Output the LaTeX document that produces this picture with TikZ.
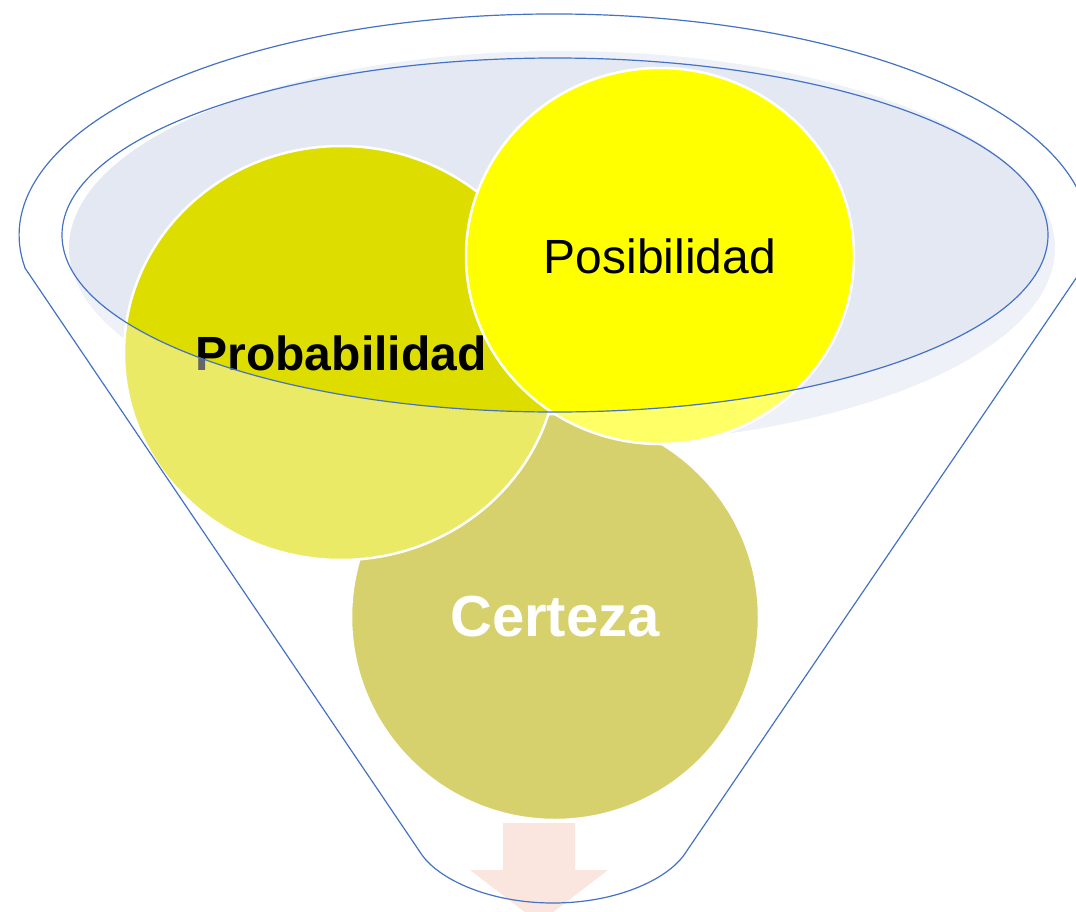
\documentclass[tikz,border=0pt]{standalone}
\usepackage{fontspec}
\setmainfont{Liberation Sans}
\usetikzlibrary{shapes.geometric}

\definecolor{rimblue}{RGB}{68,114,196}
\definecolor{rimfill}{RGB}{227,232,243}
\definecolor{probyellow}{RGB}{221,221,0}
\definecolor{posyellow}{RGB}{255,255,0}
\definecolor{certolive}{RGB}{187,178,13}
\definecolor{arrowpink}{RGB}{251,229,223}

\begin{document}
\begin{tikzpicture}[x=1pt, y=-1pt, bubble/.style={ellipse, draw=white, line width=2.5pt, inner sep=0pt}, rim/.style={draw=rimblue, line width=1.2pt}]
                    \useasboundingbox (0,0) rectangle (1076,911);

                    % mouth of the funnel
                    \fill [rimfill](562,248) ellipse [x radius=493, y radius=197];

                    \node [bubble, fill=certolive, minimum width=408, minimum height=406, text=white, font=\fontsize{58}{62}\selectfont\bfseries](cert) at (555,617) {Certeza};
                    \node [bubble, fill=probyellow, minimum width=434, minimum height=414, font=\fontsize{48}{56}\selectfont\bfseries](prob) at (341,353) {Probabilidad};
                    \node [bubble, fill=posyellow, minimum width=388, minimum height=376, font=\fontsize{48}{56}\selectfont](pos) at (660,256) {Posibilidad};

                    % funnel body
                    \fill [white, fill opacity=0.4, even odd rule]
                        (25,268) -- (422,855) .. controls (440,880) and (490,903) .. (553,903)
                        .. controls (616,903) and (666,880) .. (684,855) -- (1083,268)
                        arc [start angle=8.6, end angle=-188.6, x radius=535, y radius=221] -- cycle
                        (555,235) ellipse [x radius=493, y radius=177];

                    \fill [arrowpink](503,823) -- (575,823) -- (575,870) -- (608,870) -- (539,923) -- (470,870) -- (503,870) -- cycle;

                    \draw [rim](25,268) -- (422,855) .. controls (440,880) and (490,903) .. (553,903)
                        .. controls (616,903) and (666,880) .. (684,855) -- (1083,268)
                        arc [start angle=8.6, end angle=-188.6, x radius=535, y radius=221] -- cycle;
                    \draw [rim](555,235) ellipse [x radius=493, y radius=177];

                \end{tikzpicture}
\end{document}
